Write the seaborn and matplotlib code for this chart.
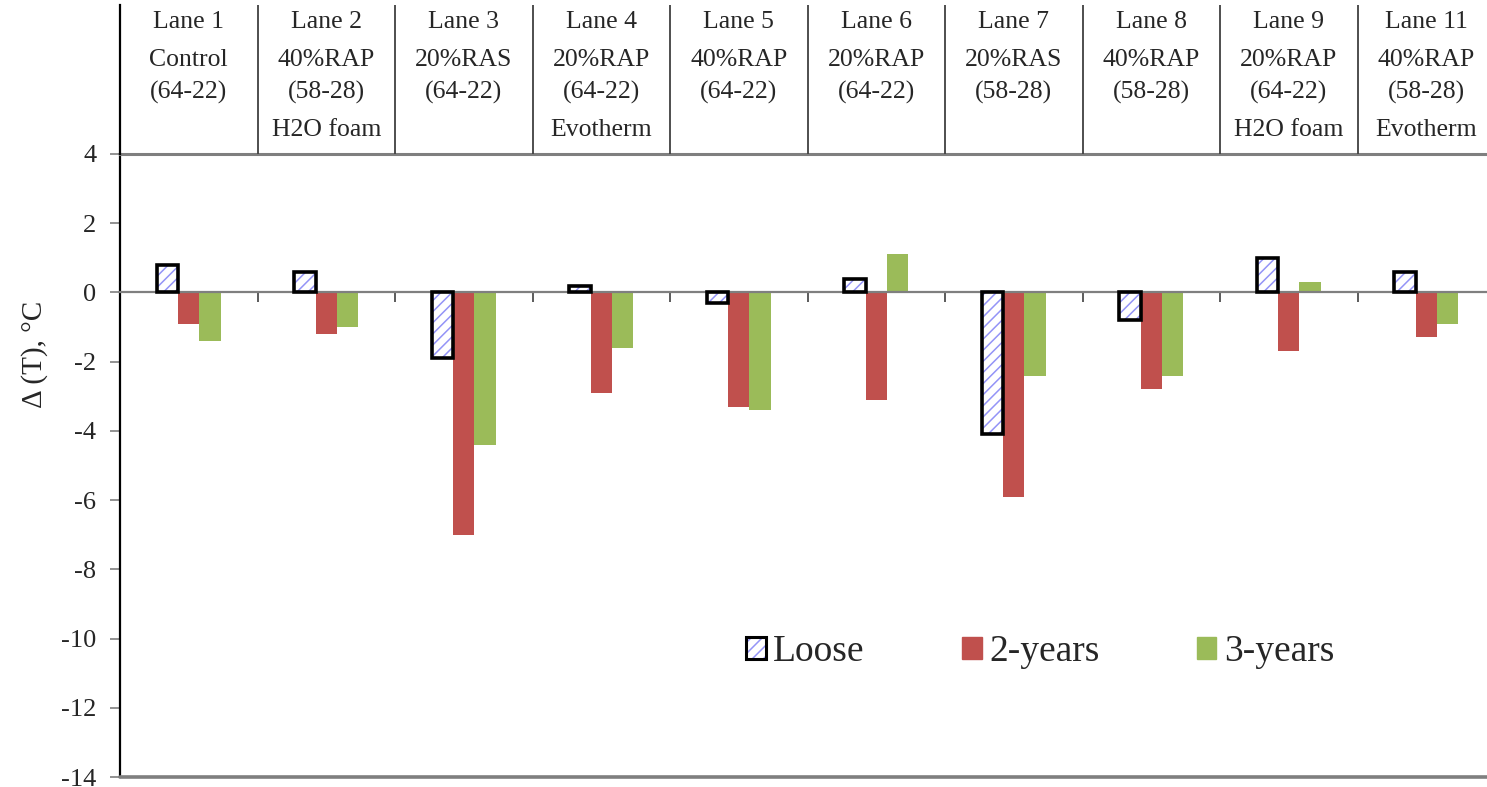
import numpy as np
import pandas as pd
import matplotlib
matplotlib.use("Agg")
import matplotlib.pyplot as plt
from matplotlib.patches import Patch, Rectangle
from matplotlib.legend_handler import HandlerTuple
import seaborn as sns

# ---- data -------------------------------------------------------------
lanes = ["Lane 1", "Lane 2", "Lane 3", "Lane 4", "Lane 5",
         "Lane 6", "Lane 7", "Lane 8", "Lane 9", "Lane 11"]
mixes = ["Control", "40%RAP", "20%RAS", "20%RAP", "40%RAP",
         "20%RAP", "20%RAS", "40%RAP", "20%RAP", "40%RAP"]
grades = ["(64-22)", "(58-28)", "(64-22)", "(64-22)", "(64-22)",
          "(64-22)", "(58-28)", "(58-28)", "(64-22)", "(58-28)"]
additives = ["", "H2O foam", "", "Evotherm", "",
             "", "", "", "H2O foam", "Evotherm"]

series = ["Loose", "2-years", "3-years"]
loose = [0.8, 0.6, -1.9, 0.2, -0.3, 0.4, -4.1, -0.8, 1.0, 0.6]
two_years = [-0.9, -1.2, -7.0, -2.9, -3.3, -3.1, -5.9, -2.8, -1.7, -1.3]
three_years = [-1.4, -1.0, -4.4, -1.6, -3.4, 1.1, -2.4, -2.4, 0.3, -0.9]

yticks = list(range(-14, 5, 2))

# ---- styling ----------------------------------------------------------
sns.set_theme(style="white")
plt.rcParams["font.family"] = ["Liberation Serif", "DejaVu Serif"]
plt.rcParams["hatch.linewidth"] = 1.1

red = "#C0504D"
green = "#9BBB59"
hatch_blue = "#9494F7"
axis_gray = "#7F7F7F"

df = pd.DataFrame({
    "lane": lanes * 3,
    "series": [s for s in series for _ in lanes],
    "value": loose + two_years + three_years,
})

W, H = 1487, 787
fig = plt.figure(figsize=(W / 100, H / 100), dpi=100)
left, right = 120 / W, 1495 / W
ax = fig.add_axes([left, 1 - 777 / H, right - left, (777 - 154) / H])
hax = fig.add_axes([left, 1 - 154 / H, right - left, (154 - 5) / H])

sns.barplot(data=df, x="lane", y="value", hue="series",
            palette=["white", red, green], saturation=1, width=0.465,
            gap=0, linewidth=0, legend=False, ax=ax)

# hatched "Loose" bars with a heavy black outline
for bar in ax.containers[0]:
    bar.set_facecolor("white")
    bar.set_hatch("///")
    bar.set_edgecolor(hatch_blue)
    bar.set_linewidth(0)
    ax.add_patch(Rectangle((bar.get_x(), bar.get_y()), bar.get_width(),
                           bar.get_height(), fill=False, ec="black",
                           lw=2.6, zorder=3))

ax.set_ylim(-14, 4)
ax.set_xlim(-0.5, len(lanes) - 0.5)
ax.set_yticks(yticks)
ax.set_yticklabels([str(t) for t in yticks], fontsize=19)
ax.set_xticks(np.arange(-0.5, len(lanes), 1.0))
ax.set_xticklabels([])
ax.set_xlabel("")
ax.set_ylabel("")
ax.tick_params(axis="y", direction="out", length=7, width=1.2,
               color=axis_gray, pad=10, left=True)
ax.tick_params(axis="x", direction="out", length=7, width=1.2,
               color="#404040", bottom=True)

for side in ("left", "top", "bottom", "right"):
    ax.spines[side].set_visible(True)
ax.spines["left"].set_color("black")
ax.spines["left"].set_linewidth(1.6)
ax.spines["right"].set_visible(False)
ax.spines["top"].set_color(axis_gray)
ax.spines["top"].set_linewidth(2.2)
ax.spines["bottom"].set_position(("data", 0))
ax.spines["bottom"].set_color(axis_gray)
ax.spines["bottom"].set_linewidth(1.6)
ax.axhline(-14, color=axis_gray, lw=2.6, clip_on=False, zorder=4)

fig.text(35 / W, 1 - 354 / H, "Δ (T), °C", rotation=90,
         ha="center", va="center", fontsize=21)

# legend
h_loose = (Patch(facecolor="white", hatch="///", edgecolor=hatch_blue, lw=0),
           Patch(facecolor="none", edgecolor="black", lw=2.2))
handles = [h_loose, Patch(color=red), Patch(color=green)]
ax.legend(handles, series, handler_map={tuple: HandlerTuple(ndivide=1)},
          loc="center left", bbox_to_anchor=((746 - 120) / 1375, (777 - 652) / 623),
          ncol=3, frameon=False, fontsize=27, handlelength=0.52,
          handleheight=0.52, handletextpad=0.2, columnspacing=2.6,
          borderpad=0, borderaxespad=0)

# header table above the plot
hax.set_xlim(ax.get_xlim())
hax.set_ylim(0, 1)
hax.set_xticks([])
hax.set_yticks([])
for side in ("top", "bottom", "right"):
    hax.spines[side].set_visible(False)
hax.spines["left"].set_visible(True)
hax.spines["left"].set_color("black")
hax.spines["left"].set_linewidth(1.6)
hax.set_facecolor("none")
for b in np.arange(0.5, len(lanes) - 0.5, 1.0):
    hax.axvline(b, color="#404040", lw=1.3)

row_y = [0.886, 0.631, 0.416, 0.161]
for i in range(len(lanes)):
    for y, txt in zip(row_y, [lanes[i], mixes[i], grades[i], additives[i]]):
        if txt:
            hax.text(i, y, txt, ha="center", va="center", fontsize=18.5)

fig.savefig("out.png", dpi=100)
